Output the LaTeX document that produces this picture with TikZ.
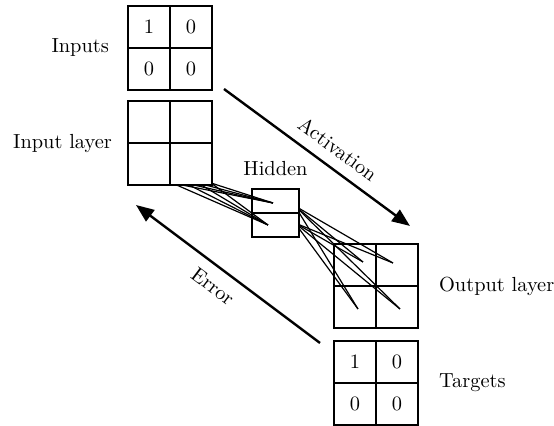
\documentclass[tikz,border=0pt]{standalone}
\usetikzlibrary{matrix, positioning, arrows.meta}
\tikzset{
  unit/.style={draw, fill=white, line width=1pt, minimum size=21pt, inner sep=0pt},
  hunit/.style={unit, minimum width=23.5pt, minimum height=12pt},
  grid/.style={matrix of nodes, nodes in empty cells, nodes={unit}, column sep=-1pt, row sep=-1pt},
  link/.style={line width=0.6pt},
  flow/.style={line width=1.2pt, -{Triangle[length=9pt,width=7pt]}},
}
\begin{document}
\begin{tikzpicture}[x=0.5pt, y=-0.5pt, font=\fontsize{10.2}{12}\selectfont]
    \useasboundingbox (0,0) rectangle (554,426);
    % output side first, links go over it
    \matrix (out) [grid] at (376,286.5) { & \\ & \\ };
    \coordinate (h1) at (295,206);
    \coordinate (h2) at (295,223);
    \coordinate (o1) at (363,262);
    \coordinate (o2) at (393,263);
    \coordinate (o3) at (358,309);
    \coordinate (o4) at (400,309);
    \foreach \h in {h1,h2}
        \foreach \o in {o1,o2,o3,o4}
            \draw[link] (\h) -- (\o);
    \matrix (hid) [grid, nodes={hunit}] at (275.5,213) { \\ \\ };
    % input layer to hidden
    \coordinate (i1) at (273,203);
    \coordinate (i2) at (268,225);
    \coordinate (s1) at (172,183);
    \coordinate (s2) at (185,183);
    \coordinate (s3) at (198,183);
    \coordinate (s4) at (211,183);
    \foreach \s in {s1,s2,s3,s4}
        \foreach \h in {i1,i2}
            \draw[link] (\s) -- (\h);
    \matrix (inl) [grid] at (170,143.5) { & \\ & \\ };
    \matrix (inp) [grid] at (170,48) {1 & 0\\ 0 & 0\\};
    \matrix (tgt) [grid] at (376,383) {1 & 0\\ 0 & 0\\};
    % labels
    \node[left=2pt of inp] (inptxt) {Inputs};
    \node[left=0.5pt of inl] (inltxt) {Input layer};
    \node[above=-1pt of hid] (hidtxt) {Hidden};
    \node[right=3pt of out] (outtxt) {Output layer};
    \node[right=3pt of tgt] (tgttxt) {Targets};
    % flows
    \coordinate (a1) at (224,89);
    \coordinate (a2) at (410,226);
    \draw[flow] (a1) -- node[sloped, above=2pt, pos=0.55] {Activation} (a2);
    \coordinate (e1) at (320,343);
    \coordinate (e2) at (136,205);
    \draw[flow] (e1) -- node[sloped, below=2pt, pos=0.52] {Error} (e2);
\end{tikzpicture}
\end{document}
